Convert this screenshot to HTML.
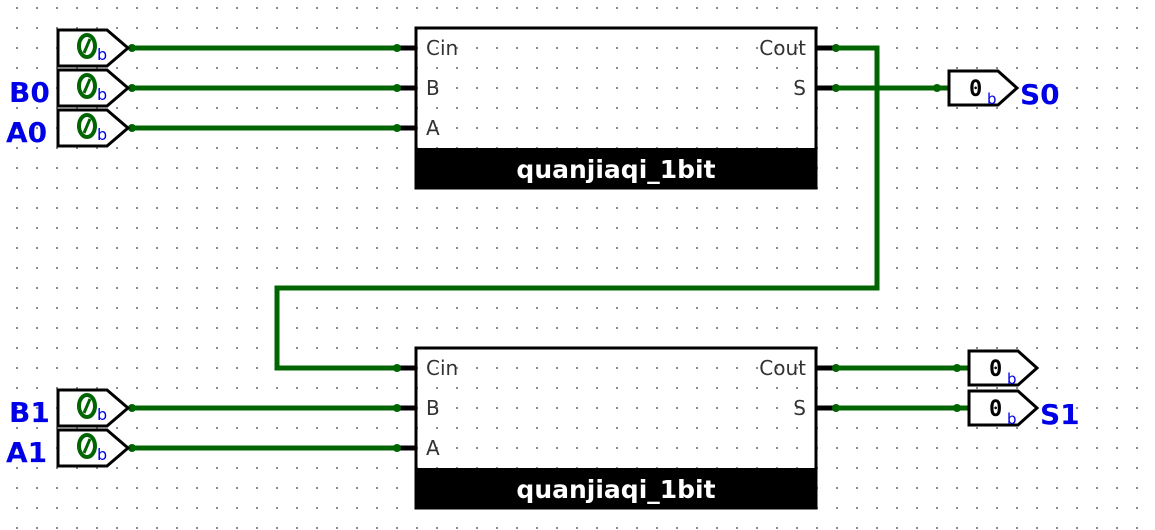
<!DOCTYPE html>
<html><head><meta charset="utf-8"><style>
html,body{margin:0;padding:0;background:#fff;}
svg{display:block;}
text{font-family:"DejaVu Sans","Liberation Sans",sans-serif;}
.lbl{font-size:20px;fill:#333;}
.pin{fill:#fff;stroke:#000;stroke-width:3;}
.w{stroke:#006400;stroke-width:5;fill:none;}
.stub{stroke:#000;stroke-width:5;}
.big{font-size:28px;font-weight:bold;fill:#0000e6;}
.title{font-size:25px;font-weight:bold;fill:#fff;}
.zero{font-family:"DejaVu Sans Mono","Liberation Mono",monospace;font-size:22px;font-weight:bold;}
</style></head><body>
<svg width="1155" height="530" viewBox="0 0 1155 530" xmlns="http://www.w3.org/2000/svg">
<defs>
<pattern id="g" x="16" y="7" width="20" height="20" patternUnits="userSpaceOnUse">
<rect x="0" y="0" width="2" height="2" fill="#888"/>
</pattern>
</defs>
<rect width="1155" height="530" fill="#fff"/>
<rect width="1155" height="530" fill="url(#g)"/>

<g>
<rect x="416" y="28" width="400" height="160" fill="none" stroke="#000" stroke-width="3"/>
<rect x="416" y="148" width="400" height="40" fill="#000"/>
<text class="title" x="616" y="178" text-anchor="middle">quanjiaqi_1bit</text>
<text class="lbl" x="426" y="55">Cin</text>
<text class="lbl" x="426" y="95">B</text>
<text class="lbl" x="426" y="135">A</text>
<text class="lbl" x="806" y="55" text-anchor="end">Cout</text>
<text class="lbl" x="806" y="95" text-anchor="end">S</text>
</g>
<g>
<rect x="416" y="348" width="400" height="160" fill="none" stroke="#000" stroke-width="3"/>
<rect x="416" y="468" width="400" height="40" fill="#000"/>
<text class="title" x="616" y="498" text-anchor="middle">quanjiaqi_1bit</text>
<text class="lbl" x="426" y="375">Cin</text>
<text class="lbl" x="426" y="415">B</text>
<text class="lbl" x="426" y="455">A</text>
<text class="lbl" x="806" y="375" text-anchor="end">Cout</text>
<text class="lbl" x="806" y="415" text-anchor="end">S</text>
</g>

<path class="w" d="M130 48H398 M130 88H398 M130 128H398 M130 408H398 M130 448H398"/>
<path class="w" d="M834 48H877V288H277V368H398"/>
<path class="w" d="M834 88H948"/>
<path class="w" d="M834 368H968 M834 408H968"/>
<path class="stub" d="M398 48H416 M398 88H416 M398 128H416 M398 368H416 M398 408H416 M398 448H416 M816 48H834 M816 88H834 M816 368H834 M816 408H834"/>
<g fill="#006400">
<circle cx="132" cy="48" r="4"/><circle cx="132" cy="88" r="4"/><circle cx="132" cy="128" r="4"/>
<circle cx="132" cy="408" r="4"/><circle cx="132" cy="448" r="4"/>
<circle cx="397" cy="48" r="4"/><circle cx="397" cy="88" r="4"/><circle cx="397" cy="128" r="4"/>
<circle cx="397" cy="368" r="4"/><circle cx="397" cy="408" r="4"/><circle cx="397" cy="448" r="4"/>
<circle cx="836" cy="48" r="4"/><circle cx="836" cy="88" r="4"/>
<circle cx="836" cy="368" r="4"/><circle cx="836" cy="408" r="4"/>
<circle cx="937" cy="88" r="4"/><circle cx="957" cy="368" r="4"/><circle cx="957" cy="408" r="4"/>
</g>

<g id="ins">
<g transform="translate(0,48)">
<path class="pin" d="M58 -18H107L128 0L107 18H58Z"/>
<ellipse cx="87" cy="-2" rx="8" ry="11" fill="none" stroke="#006400" stroke-width="4"/>
<path d="M84 5L90 -9" stroke="#006400" stroke-width="3"/>
<text x="97" y="12" font-size="16" fill="#0000e6">b</text>
</g>
</g>
<use href="#ins" y="40"/><use href="#ins" y="80"/>
<use href="#ins" y="360"/><use href="#ins" y="400"/>

<text class="big" x="9" y="102">B0</text>
<text class="big" x="6" y="142">A0</text>
<text class="big" x="9" y="422">B1</text>
<text class="big" x="6" y="462">A1</text>

<g>
<path class="pin" d="M949 71H998L1017 88L998 105H949Z"/>
<text class="zero" x="969" y="96">0</text>
<text x="987" y="104" font-size="15" fill="#0000e6">b</text>
</g>
<g>
<path class="pin" d="M969 351H1018L1037 368L1018 385H969Z"/>
<text class="zero" x="989" y="376">0</text>
<text x="1007" y="384" font-size="15" fill="#0000e6">b</text>
</g>
<g>
<path class="pin" d="M969 391H1018L1037 408L1018 425H969Z"/>
<text class="zero" x="989" y="416">0</text>
<text x="1007" y="424" font-size="15" fill="#0000e6">b</text>
</g>
<text class="big" x="1020" y="104">S0</text>
<text class="big" x="1040" y="424">S1</text>
</svg>
</body></html>
